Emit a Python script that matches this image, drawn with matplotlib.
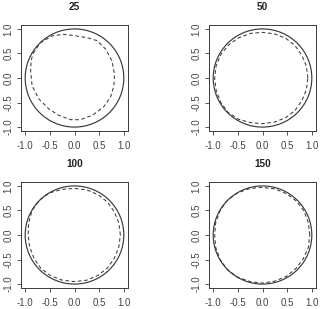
import numpy as np
import matplotlib.pyplot as plt
from matplotlib.patches import Circle

# --- data ---
titles = ["25", "50", "100", "150"]
circle_radius = 1.0
tick_values = [-1.0, -0.5, 0.0, 0.5, 1.0]
tick_labels = ["-1.0", "-0.5", "0.0", "0.5", "1.0"]

dash_x_25 = [-0.84, -0.69, -0.45, -0.22, 0.02, 0.26, 0.46, 0.63, 0.76, 0.81, 0.80,
             0.73, 0.59, 0.36, 0.12, -0.08, -0.32, -0.52, -0.72, -0.86, -0.89, -0.88]
dash_y_25 = [0.50, 0.72, 0.86, 0.89, 0.86, 0.82, 0.76, 0.59, 0.35, 0.08, -0.16,
             -0.39, -0.59, -0.76, -0.85, -0.85, -0.76, -0.63, -0.43, -0.16, 0.15, 0.35]

dash_x_50 = [0.92, 0.89, 0.80, 0.66, 0.47, 0.24, 0.00, -0.24, -0.48, -0.68, -0.84, -0.94,
             -0.97, -0.94, -0.85, -0.70, -0.49, -0.24, 0.00, 0.24, 0.47, 0.66, 0.80, 0.89]
dash_y_50 = [0.00, 0.24, 0.46, 0.66, 0.81, 0.90, 0.93, 0.91, 0.82, 0.68, 0.49, 0.25,
             0.00, -0.25, -0.49, -0.70, -0.84, -0.91, -0.93, -0.90, -0.81, -0.66, -0.46, -0.24]

dash_x_100 = [0.93, 0.90, 0.81, 0.67, 0.48, 0.25, 0.00, -0.25, -0.50, -0.71, -0.86, -0.93,
              -0.94, -0.91, -0.82, -0.68, -0.48, -0.25, 0.00, 0.25, 0.48, 0.67, 0.81, 0.90]
dash_y_100 = [0.00, 0.24, 0.47, 0.67, 0.82, 0.92, 0.95, 0.93, 0.86, 0.71, 0.50, 0.25,
              0.00, -0.24, -0.48, -0.68, -0.83, -0.92, -0.95, -0.92, -0.82, -0.67, -0.47, -0.24]

dash_x_150 = [0.96, 0.93, 0.84, 0.69, 0.49, 0.25, 0.00, -0.25, -0.50, -0.71, -0.86, -0.95,
              -0.97, -0.95, -0.86, -0.71, -0.50, -0.25, 0.00, 0.25, 0.49, 0.68, 0.83, 0.93]
dash_y_150 = [0.00, 0.25, 0.49, 0.69, 0.84, 0.94, 0.97, 0.95, 0.86, 0.71, 0.50, 0.25,
              0.00, -0.25, -0.50, -0.71, -0.86, -0.95, -0.98, -0.94, -0.84, -0.68, -0.48, -0.25]

curves = [(dash_x_25, dash_y_25), (dash_x_50, dash_y_50),
          (dash_x_100, dash_y_100), (dash_x_150, dash_y_150)]

W, H = 320, 309
boxes = [(21, 25), (209, 25), (21, 182), (209, 182)]  # left, top in px
BOX_W, BOX_H = 107, 106

plt.rcParams['font.family'] = ['Liberation Sans', 'DejaVu Sans']
INK = '#3a3a3a'

fig = plt.figure(figsize=(W / 100, H / 100), dpi=100)

for (left, top), title, (cx, cy) in zip(boxes, titles, curves):
    ax = fig.add_axes([left / W, (H - top - BOX_H) / H, BOX_W / W, BOX_H / H])
    ax.add_patch(Circle((0, 0), circle_radius, fill=False, color=INK, lw=0.85))
    ax.plot(np.append(cx, cx[0]), np.append(cy, cy[0]), color=INK, lw=0.75,
            dashes=(3.5, 2.5))
    ax.set_xlim(-1.085, 1.085)
    ax.set_ylim(-1.08, 1.08)
    ax.set_xticks(tick_values)
    ax.set_xticklabels(tick_labels)
    ax.set_yticks(tick_values)
    ax.set_yticklabels(tick_labels, rotation=90, va='center')
    ax.tick_params(length=3, width=0.6, color=INK, labelcolor='#444444', labelsize=7)
    ax.tick_params(axis='x', pad=4)
    ax.tick_params(axis='y', pad=2.5)
    for s in ax.spines.values():
        s.set_color(INK)
        s.set_linewidth(0.7)
    ax.set_title(title, fontsize=7.2, fontweight='bold', color='#222222', pad=10.5)

fig.savefig("out.png", dpi=100)
